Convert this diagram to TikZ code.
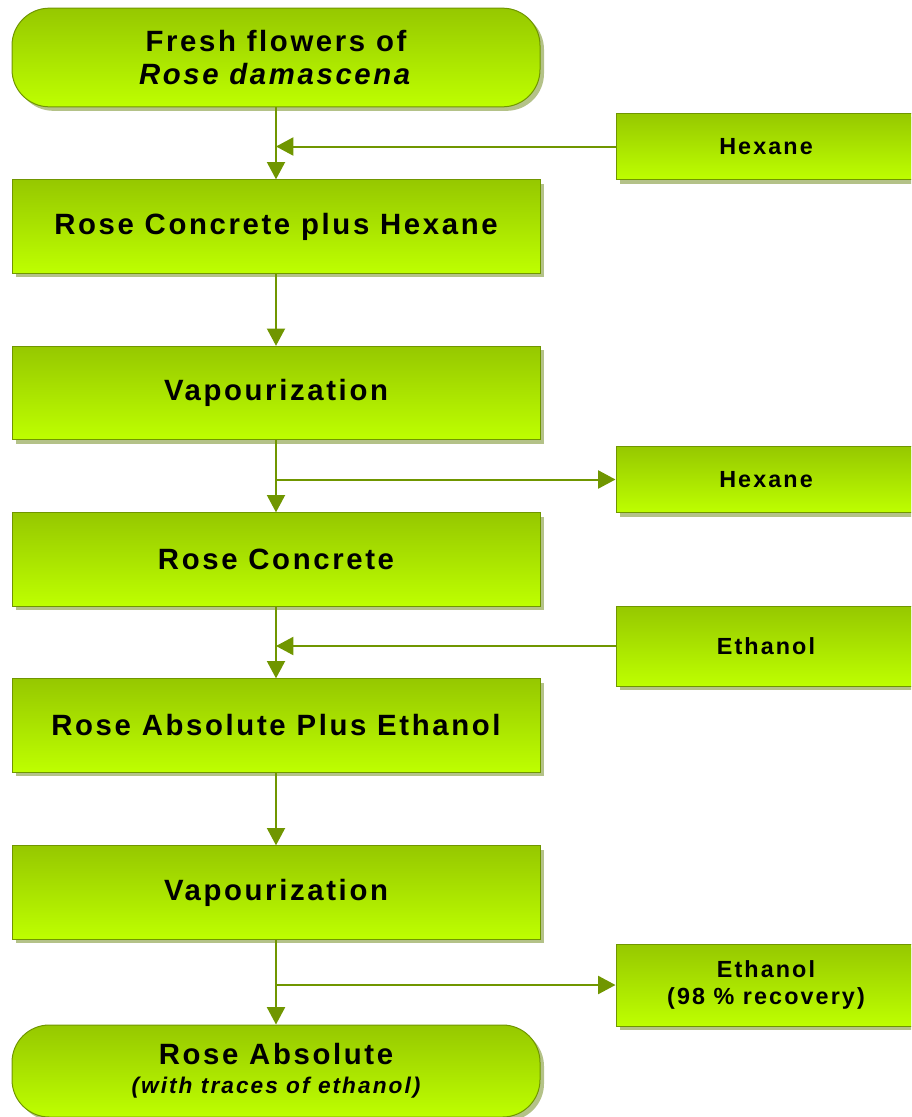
\documentclass[tikz,border=0pt]{standalone}
\usepackage{fontspec}
\newfontfamily\flowfont{Liberation Sans}[LetterSpace=9]
\usetikzlibrary{positioning,arrows.meta,shadows}
\definecolor{flowtop}{RGB}{150,200,0}
\definecolor{flowbot}{RGB}{190,255,0}
\definecolor{flowline}{RGB}{112,150,0}
\definecolor{flowshadow}{RGB}{180,194,136}

\begin{document}
\begin{tikzpicture}[x=0.75pt,y=0.75pt]
    \useasboundingbox (0,0) rectangle (911,-1117);
    \clip (0,0) rectangle (911,-1117);
    %%%%% THE MAIN CHAIN
    \begin{scope}[every node/.style={draw=flowline, line width=0.75pt, align=center,
            top color=flowtop, bottom color=flowbot,
            drop shadow={shadow xshift=3pt, shadow yshift=-3pt, fill=flowshadow, opacity=1}},
        process/.style={minimum width=396pt, minimum height=70pt,
            font=\flowfont\bfseries\fontsize{22}{25}\selectfont},
        terminal/.style={process, rounded corners=28pt}]
      \node[terminal, minimum height=74pt] (fresh) at (276,-57.5) {Fresh flowers of\\\textit{Rose damascena}};
      \node[process] (concHex) at (276,-226.5) {Rose Concrete plus Hexane};
      \node[process] (vapA) at (276,-393) {Vapourization};
      \node[process] (conc) at (276,-559.5) {Rose Concrete};
      \node[process] (absEth) at (276,-725.5) {Rose Absolute Plus Ethanol};
      \node[process] (vapB) at (276,-892.5) {Vapourization};
      \node[terminal, minimum height=69pt] (absolute) at (276,-1071)
        {Rose Absolute\\[-3pt]{\fontsize{17}{19}\selectfont\itshape (with traces of ethanol)}};
    \end{scope}
    %%%%% THE SOLVENTS
    \begin{scope}[every node/.style={draw=flowline, line width=0.75pt, align=center,
            top color=flowtop, bottom color=flowbot,
            drop shadow={shadow xshift=3pt, shadow yshift=-3pt, fill=flowshadow, opacity=1},
            minimum width=225pt, font=\flowfont\bfseries\fontsize{17.5}{20}\selectfont}]
      \node[minimum height=50pt] (hexIn) at (766,-146.5) {Hexane};
      \node[minimum height=50pt] (hexOut) at (766,-479.5) {Hexane};
      \node[minimum height=60pt] (ethIn) at (766,-646) {Ethanol};
      \node[minimum height=61.5pt] (ethOut) at (766,-985) {Ethanol\\(98 \% recovery)};
    \end{scope}
    %%%% LINKS
    \begin{scope}[flow/.style={draw=flowline, line width=1.5pt, -{Triangle[length=13pt,width=13.5pt]}}]
      \draw[flow] (fresh) -- (concHex);
      \draw[flow] (concHex) -- (vapA);
      \draw[flow] (vapA) -- (conc);
      \draw[flow] (conc) -- (absEth);
      \draw[flow] (absEth) -- (vapB);
      \draw[flow] (vapB) -- (absolute);
      % solvents in and out
      \draw[flow] (hexIn) -- (hexIn -| fresh);
      \draw[flow] (vapA |- hexOut) -- (hexOut);
      \draw[flow] (ethIn) -- (ethIn -| conc);
      \draw[flow] (vapB |- ethOut) -- (ethOut);
    \end{scope}
\end{tikzpicture}
\end{document}
